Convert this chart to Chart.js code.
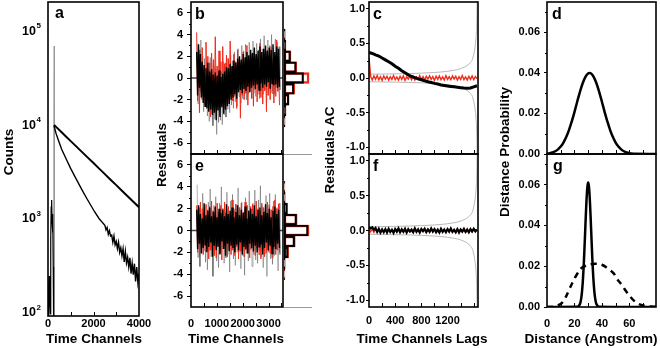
<!DOCTYPE html>
<html>
<head>
<meta charset="utf-8">
<title>Decay fit, residuals, autocorrelation and distance distributions</title>
<script src="https://cdn.jsdelivr.net/npm/chart.js@4.4.1/dist/chart.umd.min.js"></script>
<style>
  body { margin: 0; background: #fff; }
  #wrap { position: relative; width: 660px; height: 348px; }
  canvas { position: absolute; left: 0; top: 0; }
</style>
</head>
<body>
<div id="wrap">
  <canvas id="chartA" width="660" height="348"></canvas>
  <canvas id="chartB" width="660" height="348"></canvas>
  <canvas id="chartBh" width="660" height="348"></canvas>
  <canvas id="chartE" width="660" height="348"></canvas>
  <canvas id="chartEh" width="660" height="348"></canvas>
  <canvas id="chartC" width="660" height="348"></canvas>
  <canvas id="chartF" width="660" height="348"></canvas>
  <canvas id="chartD" width="660" height="348"></canvas>
  <canvas id="chartG" width="660" height="348"></canvas>
</div>
<script>
/*
    1. The data.
*/

// Panel a: counts vs time channel (log axis)
const countTicks = [100, 1000, 10000, 100000];
const decayChannelTicks = [0, 2000, 4000];
const irfChannels = [0, 240, 255, 262, 268, 272, 276, 282, 295, 4000];
const irfCounts   = [80, 85, 300, 6000, 68000, 20000, 3000, 300, 85, 80];
const preChannels = [5, 25, 45, 70, 95, 120, 140, 160, 180, 200, 215, 230, 245];
const preCounts   = [90, 180, 240, 130, 95, 600, 1300, 1550, 900, 700, 1100, 300, 90];
const slowChannels = [265, 400, 600, 800, 1000, 1250, 1500, 1750, 2000, 2250, 2500, 2750, 3000, 3250, 3500, 3750, 4000];
const slowCounts   = [9800, 9100, 8170, 7330, 6580, 5750, 5020, 4390, 3840, 3350, 2925, 2555, 2234, 1950, 1703, 1488, 1300];
const fastChannels = [265, 350, 453, 600, 820, 1000, 1260, 1500, 1700, 2040, 2250,
    2500, 2550, 2600, 2650, 2700, 2750, 2800, 2850, 2900, 2950, 3000, 3050, 3100, 3150, 3200, 3250,
    3300, 3350, 3400, 3450, 3500, 3550, 3600, 3650, 3700, 3750, 3800, 3850, 3900, 3950, 4000];
const fastCounts   = [9600, 8000, 6760, 5400, 4140, 3350, 2540, 1980, 1620, 1170, 980,
    832, 745, 790, 668, 730, 640, 655, 548, 640, 515, 560, 470, 548, 430, 480, 395,
    470, 340, 440, 330, 380, 300, 375, 255, 330, 248, 325, 210, 300, 205, 255];

// Panels b / e: weighted residuals, one value per residual channel
const resStart = 220, resStep = 36;
const residualTicks = [-6, -4, -2, 0, 2, 4, 6];
const residualChannelTicks = [0, 1000, 2000, 3000];
const resBlackB = [
    2.4, -1.6, 3.1, -0.9, 2.2, -1.8, 1.5, -2.3, 1.2, -2.6,
    0.9, -2.8, 1.4, -3.1, 0.6, -2.9, 0.8, -3.4, 0.3, -3.2,
    0.5, -3.9, 0.2, -3.0, 0.7, -3.6, 0.1, -2.7, 0.4, -3.3,
    0.6, -2.9, 1.0, -2.6, 0.9, -2.4, 1.3, -2.0, 1.1, -1.8,
    1.6, -1.5, 1.4, -1.9, 1.8, -1.3, 2.0, -1.1, 1.7, -1.4,
    2.2, -1.0, 1.9, -1.2, 2.4, -0.8, 2.1, -1.3, 2.6, -0.9,
    2.3, -0.7, 2.8, -1.0, 2.2, -0.6, 2.5, -1.1, 2.9, -0.5,
    2.4, -0.9, 2.7, -0.6, 3.0, -0.8, 2.5, -0.4, 2.8, -1.0,
    2.6, -0.5, 3.1, -0.7, 2.4, -0.6, 2.9, -0.9, 2.7, -0.8];
const resGrayB = [
    3.2, -2.4, 2.6, -1.2, 3.5, -2.0, 2.0, -3.1, 1.8, -2.2,
    1.5, -3.5, 0.7, -4.0, 1.9, -3.3, 0.4, -4.4, 1.1, -3.8,
    0.9, -5.2, 0.3, -4.1, 1.2, -3.9, 0.6, -4.3, 1.5, -3.4,
    1.4, -3.6, 1.8, -2.9, 0.8, -3.2, 2.1, -2.5, 1.6, -2.8,
    2.4, -2.2, 1.2, -2.6, 2.7, -1.7, 1.5, -2.3, 3.0, -1.9,
    2.5, -1.6, 3.1, -2.0, 1.8, -1.5, 3.3, -1.2, 2.2, -1.8,
    3.4, -1.4, 2.0, -1.7, 3.2, -0.9, 2.6, -1.9, 3.6, -1.2,
    2.7, -1.5, 3.9, -1.0, 2.4, -1.6, 3.5, -0.8, 3.0, -1.4,
    4.0, -1.2, 2.8, -1.5, 3.6, -0.9, 3.3, -1.3, 2.9, -1.1];
const resRedB = [
    4.2, -2.1, 1.6, -3.2, 1.9, -1.4, 2.8, -1.7, 1.2, -2.5,
    3.3, -1.5, 2.0, -2.2, 1.4, -3.6, 2.3, -1.1, 1.7, -2.0,
    3.8, -1.6, 1.1, -2.7, 2.5, -1.3, 1.5, -2.4, 2.9, -1.8,
    1.3, -3.0, 2.1, -1.2, 1.8, -2.3, 3.4, -1.5, 1.0, -2.1,
    2.2, -1.7, 1.5, -2.8, 2.6, -1.2, 1.9, -3.7, 1.4, -1.6,
    2.4, -2.0, 1.2, -1.4, 3.0, -2.5, 1.7, -1.3, 2.2, -1.9,
    1.6, -2.6, 2.7, -1.1, 1.3, -2.2, 2.0, -1.5, 3.2, -1.8,
    1.5, -2.4, 2.3, -1.2, 1.8, -3.1, 2.6, -1.6, 1.1, -2.0,
    2.9, -1.4, 1.6, -2.3, 2.1, -1.7, 3.5, -1.2, 1.4, -2.5];
const resBlackE = [
    1.9, -1.7, 2.3, -1.2, 1.5, -2.1, 1.1, -1.6, 2.5, -1.3,
    1.4, -2.0, 1.8, -1.5, 2.1, -1.1, 1.3, -2.4, 1.7, -1.4,
    2.2, -1.8, 1.2, -1.5, 2.0, -2.2, 1.6, -1.0, 1.9, -1.7,
    1.3, -2.3, 2.4, -1.2, 1.5, -1.9, 1.8, -1.4, 2.1, -1.6,
    1.2, -2.0, 1.7, -1.3, 2.3, -1.8, 1.4, -1.1, 1.9, -2.2,
    1.6, -1.5, 2.2, -1.7, 1.1, -2.1, 1.8, -1.2, 2.0, -1.6,
    1.5, -1.9, 2.3, -1.4, 1.3, -2.0, 1.9, -1.5, 2.1, -1.3,
    1.4, -2.2, 1.7, -1.6, 2.4, -1.1, 1.6, -1.8, 2.0, -1.4,
    1.2, -2.1, 1.8, -1.5, 2.2, -1.7, 1.5, -1.2, 1.9, -1.6];
const resGrayE = [
    4.2, -2.5, 2.1, -3.3, 1.6, -2.0, 3.4, -1.8, 2.2, -2.9,
    1.5, -3.6, 2.6, -1.9, 3.8, -2.4, 1.8, -4.2, 2.3, -1.6,
    3.1, -2.8, 1.7, -3.4, 2.5, -2.0, 4.0, -1.7, 2.0, -3.0,
    1.6, -2.5, 3.5, -2.2, 1.9, -3.8, 2.7, -1.8, 3.3, -2.6,
    1.8, -3.2, 2.4, -2.0, 3.9, -1.9, 2.1, -3.5, 2.6, -2.3,
    1.7, -4.1, 3.0, -2.1, 2.3, -2.8, 3.6, -1.8, 2.0, -3.3,
    2.5, -2.2, 3.7, -2.7, 1.9, -3.0, 2.8, -1.9, 4.1, -2.4,
    2.2, -3.4, 1.8, -2.1, 3.2, -4.2, 2.4, -2.0, 3.4, -2.6,
    1.9, -3.1, 2.7, -2.3, 3.3, -1.8, 2.1, -3.7, 2.5, -2.2];
const resRedE = [
    2.3, -2.0, 1.7, -2.4, 2.6, -1.5, 2.0, -2.2, 1.6, -1.9,
    2.4, -1.7, 1.9, -2.6, 2.2, -1.8, 2.7, -1.6, 1.8, -2.3,
    2.1, -2.5, 2.5, -1.4, 1.7, -2.1, 2.3, -2.7, 2.0, -1.6,
    2.6, -1.9, 1.8, -2.4, 2.2, -1.7, 1.6, -2.2, 2.8, -1.8,
    2.0, -2.3, 2.4, -1.5, 1.9, -2.6, 2.1, -1.9, 2.5, -2.0,
    1.7, -2.4, 2.6, -1.8, 2.3, -2.1, 1.8, -2.5, 2.2, -1.7,
    2.4, -2.0, 1.9, -2.3, 2.7, -1.6, 2.0, -2.2, 1.8, -2.6,
    2.5, -1.8, 2.1, -2.4, 1.7, -2.0, 2.6, -1.9, 2.3, -2.1,
    1.9, -2.5, 2.2, -1.7, 2.8, -2.2, 2.0, -1.8, 2.4, -2.0];

// Residual histograms (bin centre, bar length)
const histBins   = [-4, -3, -2, -1, 0, 1, 2, 3, 4];
const histBlackB = [1, 2, 5, 10.3, 20.3, 12.7, 6.7, 2, 1];
const histRedB   = [1, 2, 5.3, 11.3, 26, 13.3, 7.3, 1.7, 1.3];
const histBlackE = [0.5, 1, 4.3, 11, 25, 13, 3.3, 1, 0.5];
const histRedE   = [1, 1.3, 4.8, 11.7, 26, 13.7, 3.8, 1.3, 1];

// Panels c / f: autocorrelation of residuals vs lag
const acTicks = [-1, -0.5, 0, 0.5, 1];
const lagTicks = [0, 400, 800, 1200];
const lagStep = 25;
const acLagsBlackC = [0, 50, 100, 150, 200, 250, 300, 350, 400, 450, 500, 550, 600, 650, 700, 750, 800,
    850, 900, 950, 1000, 1050, 1100, 1150, 1200, 1250, 1300, 1350, 1400, 1450, 1500, 1550, 1600, 1650];
const acBlackC = [0.37, 0.355, 0.335, 0.318, 0.29, 0.262, 0.235, 0.205, 0.17, 0.14,
    0.105, 0.075, 0.045, 0.022, 0.005, -0.012, -0.026, -0.04, -0.055, -0.066,
    -0.078, -0.088, -0.1, -0.108, -0.115, -0.122, -0.128, -0.133, -0.14, -0.146,
    -0.15, -0.145, -0.128, -0.112];
const acRedC = [
    0.30, 0.02, -0.03, 0.03, -0.02, 0.035, -0.025, 0.02, -0.035, 0.03,
    -0.015, 0.025, -0.03, 0.02, -0.02, 0.035, -0.025, 0.015, -0.03, 0.025,
    -0.02, 0.03, -0.035, 0.02, -0.015, 0.03, -0.025, 0.025, -0.03, 0.015,
    -0.02, 0.035, -0.025, 0.02, -0.03, 0.025, -0.015, 0.03, -0.02, 0.02,
    -0.035, 0.025, -0.02, 0.03, -0.025, 0.015, -0.03, 0.035, -0.02, 0.02,
    -0.025, 0.03, -0.015, 0.025, -0.03, 0.02, -0.02, 0.035, -0.025, 0.015,
    -0.03, 0.025, -0.02, 0.03, -0.025, 0.02, -0.01];
const acBlackF = [
    0.05, 0.03, 0.045, 0.01, 0.035, -0.02, 0.025, -0.03, 0.015, -0.025,
    0.02, -0.03, 0.025, -0.02, 0.01, -0.035, 0.02, -0.015, 0.03, -0.025,
    0.015, -0.02, 0.025, -0.03, 0.02, -0.015, 0.01, -0.025, 0.03, -0.02,
    0.015, -0.03, 0.02, -0.01, 0.025, -0.025, 0.015, -0.02, 0.03, -0.015,
    0.02, -0.025, 0.01, -0.03, 0.025, -0.02, 0.015, -0.025, 0.02, -0.015,
    0.03, -0.02, 0.01, -0.025, 0.02, -0.03, 0.015, -0.015, 0.025, -0.02,
    0.01, -0.025, 0.02, -0.015, 0.025, -0.01, 0.015];
const acRedF = [
    0.04, -0.02, 0.02, -0.03, 0.015, -0.02, 0.025, -0.015, 0.02, -0.03,
    0.01, -0.02, 0.025, -0.025, 0.015, -0.01, 0.02, -0.03, 0.01, -0.02,
    0.03, -0.015, 0.02, -0.025, 0.01, -0.02, 0.025, -0.03, 0.015, -0.01,
    0.02, -0.025, 0.03, -0.015, 0.01, -0.02, 0.025, -0.025, 0.015, -0.02,
    0.02, -0.01, 0.025, -0.03, 0.015, -0.02, 0.01, -0.015, 0.025, -0.025,
    0.02, -0.02, 0.015, -0.03, 0.025, -0.01, 0.02, -0.025, 0.01, -0.02,
    0.03, -0.015, 0.02, -0.02, 0.015, -0.025, 0.01];
const bandLags  = [0, 200, 400, 600, 800, 1000, 1100, 1200, 1300, 1400, 1450, 1500, 1550, 1580, 1600, 1620, 1635, 1645, 1652];
const bandUpper = [0.055, 0.057, 0.06, 0.064, 0.07, 0.08, 0.087, 0.097, 0.112, 0.135, 0.155, 0.18, 0.225, 0.27, 0.34, 0.45, 0.58, 0.78, 1.15];
const bandLower = [-0.055, -0.057, -0.06, -0.064, -0.07, -0.08, -0.087, -0.097, -0.112, -0.135, -0.155, -0.18, -0.225, -0.27, -0.34, -0.45, -0.58, -0.78, -1.15];

// Panels d / g: distance probability vs distance (Angstrom)
const probTicks = [0, 0.02, 0.04, 0.06];
const distTicks = [0, 20, 40, 60];
const distD = [0, 2, 4, 6, 8, 10, 12, 14, 16, 18, 20, 22, 24, 26, 28, 30, 31, 32, 34, 36,
    38, 40, 42, 44, 46, 48, 50, 52, 54, 56, 58, 60, 62, 64, 80];
const probD = [0.00022, 0.00042, 0.00077, 0.00135, 0.00227, 0.00366, 0.00564, 0.00834, 0.0118, 0.0160,
    0.0207, 0.0258, 0.0307, 0.0349, 0.0381, 0.0398, 0.0400, 0.0398, 0.0381, 0.0349,
    0.0307, 0.0258, 0.0207, 0.0160, 0.0118, 0.00834, 0.00564, 0.00366, 0.00227, 0.00135,
    0.00077, 0.00042, 0.00022, 0.0001, 0];
const distNarrowG = [0, 22, 23, 24, 24.5, 25, 25.5, 26, 26.5, 27, 27.5, 28, 28.5, 29, 29.5, 30,
    30.5, 31, 31.5, 32, 32.5, 33, 33.5, 34, 34.5, 35, 35.5, 36, 37, 38, 80];
const probNarrowG = [0, 0.00008, 0.00039, 0.00148, 0.00268, 0.00461, 0.00753, 0.01168, 0.0172, 0.02407,
    0.0320, 0.04035, 0.0483, 0.05502, 0.0594, 0.061, 0.0594, 0.05502, 0.0483, 0.04035,
    0.0320, 0.02407, 0.0172, 0.01168, 0.00753, 0.00461, 0.00268, 0.00148, 0.00039, 0.00008, 0];
const distBroadG = [0, 5, 8, 10.5, 13, 16.6, 19, 21.5, 25, 28, 32, 36, 40, 44, 48.4, 51, 54.5, 57.5,
    60.6, 63.5, 66.7, 70, 72.8, 76, 80];
const probBroadG = [0, 0.0002, 0.0008, 0.0018, 0.004, 0.0092, 0.0125, 0.0157, 0.019, 0.0202, 0.021, 0.0212,
    0.0207, 0.019, 0.0166, 0.0138, 0.0108, 0.0078, 0.0051, 0.003, 0.0015, 0.0008, 0.0005, 0.0002, 0];

/*
    2. Chart.js setup: one canvas per panel, all stacked on the same page area.
*/
const W = 660, H = 348;
const RED = '#ec2d1c';
const FONT = '"Liberation Sans", Arial, Helvetica, sans-serif';

Chart.defaults.font.family = FONT;
Chart.defaults.font.size = 11;
Chart.defaults.font.weight = 'bold';
Chart.defaults.color = '#000';
Chart.defaults.animation = false;
Chart.defaults.events = [];
Chart.defaults.plugins.legend.display = false;
Chart.defaults.plugins.tooltip.enabled = false;

const xy = (xs, ys) => xs.map((x, i) => ({ x: x, y: ys[i] }));
const resChannels = resBlackB.map((_, i) => resStart + i * resStep);
const resChannelsGray = resGrayB.map((_, i) => resStart + resStep / 2 + i * resStep);
const acLags = acRedC.map((_, i) => i * lagStep);

// frame, inward x ticks, minor y ticks and free text (titles, panel letters)
const decor = {
    id: 'decor',
    afterDraw(chart, args, o) {
        const ctx = chart.ctx, a = chart.chartArea;
        const xs = chart.scales.x, ys = chart.scales.y;
        ctx.save();
        ctx.strokeStyle = '#000';
        if (o.box) {
            ctx.lineWidth = 1.6;
            ctx.strokeRect(a.left, a.top, a.right - a.left, a.bottom - a.top);
        }
        ctx.lineWidth = 1;
        (o.xIn || []).forEach(v => {
            const p = Math.round(xs.getPixelForValue(v)) + 0.5;
            ctx.beginPath(); ctx.moveTo(p, a.bottom); ctx.lineTo(p, a.bottom - 4); ctx.stroke();
        });
        (o.yMinor || []).forEach(v => {
            const p = Math.round(ys.getPixelForValue(v)) + 0.5;
            ctx.beginPath(); ctx.moveTo(a.left, p); ctx.lineTo(a.left - 2, p); ctx.stroke();
        });
        ctx.fillStyle = '#000';
        (o.pow10 || []).forEach(v => {
            const p = ys.getPixelForValue(v);
            ctx.font = 'bold 12.5px ' + FONT;
            ctx.textAlign = 'right'; ctx.textBaseline = 'middle';
            ctx.fillText('10', 36, p + 1);
            ctx.font = 'bold 8px ' + FONT;
            ctx.textAlign = 'left';
            ctx.fillText(String(Math.round(Math.log10(v))), 36.5, p - 4);
        });
        (o.texts || []).forEach(t => {
            ctx.save();
            ctx.font = 'bold ' + (t.size || 13.5) + 'px ' + FONT;
            ctx.textAlign = t.align || 'center';
            ctx.textBaseline = t.base || 'middle';
            ctx.translate(t.x, t.y);
            if (t.rot) ctx.rotate(-Math.PI / 2);
            ctx.fillText(t.text, 0, 0);
            ctx.restore();
        });
        ctx.restore();
    }
};

function xScale(min, max, ticks, pad, show) {
    return {
        type: 'linear', min: min, max: max, offset: false,
        afterBuildTicks: s => { s.ticks = ticks.map(v => ({ value: v })); },
        ticks: { display: show, padding: pad, maxRotation: 0, autoSkip: false, callback: v => String(v) },
        grid: { display: false, drawTicks: false },
        border: { display: false }
    };
}

function yScale(min, max, ticks, fmt, tickLen, pad, type) {
    return {
        type: type || 'linear', min: min, max: max, offset: false,
        afterBuildTicks: s => { s.ticks = ticks.map(v => ({ value: v })); },
        ticks: { padding: pad, autoSkip: false, callback: fmt, display: !!fmt },
        grid: { drawOnChartArea: false, drawTicks: true, tickLength: tickLen, color: '#000', lineWidth: 1 },
        border: { display: false }
    };
}

function line(data, color, width, order, extra) {
    return Object.assign({
        data: data, borderColor: color, borderWidth: width, order: order,
        showLine: true, pointRadius: 0, fill: false
    }, extra || {});
}

// box = [left, top, right, bottom] of the plot area in page pixels
function panel(id, box, yW, xH, type, datasets, scales, decorOpts, extraOptions) {
    // fixed axis sizes and no label overflow padding, so the plot area lands exactly on box
    scales.x.afterFit = s => { s.height = xH; s.paddingLeft = 0; s.paddingRight = 0; };
    scales.y.afterFit = s => { s.width = yW; s.paddingTop = 0; s.paddingBottom = 0; };
    const options = Object.assign({
        responsive: false,
        layout: {
            autoPadding: false,
            padding: { left: box[0] - yW, top: box[1], right: W - box[2], bottom: H - box[3] - xH }
        },
        scales: scales,
        plugins: { decor: decorOpts }
    }, extraOptions || {});
    return new Chart(document.getElementById(id), {
        type: type, data: { datasets: datasets }, options: options, plugins: [decor]
    });
}

/*
    3. The panels.
*/

// a: decays
const chartA = panel('chartA', [48, 2, 139, 316], 40, 20, 'scatter', [
    line(xy(irfChannels, irfCounts), '#9a9a9a', 1.2, 3),
    line(xy(preChannels, preCounts), '#000', 1.2, 2),
    line(xy(slowChannels, slowCounts), '#000', 2, 1),
    line(xy(fastChannels, fastCounts), '#000', 1.4, 0)
], {
    x: xScale(0, 4000, decayChannelTicks, 1, true),
    y: yScale(90, 200000, countTicks, null, 4, 3, 'logarithmic')
}, {
    box: true, xIn: [1000, 2000, 3000], pow10: countTicks,
    texts: [
        { text: 'a', x: 55, y: 18, size: 16, align: 'left', base: 'alphabetic' },
        { text: 'Counts', x: 9, y: 152, rot: true },
        { text: 'Time Channels', x: 94, y: 339 }
    ]
});

const fmtInt = v => String(v);
const fmt1 = v => v.toFixed(1);
const fmt2 = v => v.toFixed(2);
const zeroLine = [{ x: 0, y: 0 }, { x: 3560, y: 0 }];

// b: residuals, first fit
const chartB = panel('chartB', [191, 2, 283, 154], 30, 0, 'scatter', [
    line(xy(resChannels, resBlackB), '#000', 1.4, 0),
    line(xy(resChannels, resRedB), RED, 1, 1),
    line(xy(resChannelsGray, resGrayB), 'rgba(0,0,0,0.3)', 1, 2),
    line(zeroLine, '#444', 1.5, 3)
], {
    x: xScale(0, 3560, [], 0, false),
    y: yScale(-7, 7, residualTicks, fmtInt, 4, 4)
}, {
    box: true, xIn: [500, 1000, 1500, 2000, 2500, 3000, 3500], yMinor: [-5, -3, -1, 1, 3, 5],
    texts: [{ text: 'b', x: 195, y: 19, size: 16, align: 'left', base: 'alphabetic' }]
});

// e: residuals, second fit
const chartE = panel('chartE', [191, 154, 283, 307], 30, 20, 'scatter', [
    line(xy(resChannels, resBlackE), '#000', 1.4, 0),
    line(xy(resChannels, resRedE), RED, 1, 1),
    line(xy(resChannelsGray, resGrayE), 'rgba(0,0,0,0.3)', 1, 2),
    line(zeroLine, '#444', 1.5, 3)
], {
    x: xScale(0, 3560, residualChannelTicks, 10, true),
    y: yScale(-7, 7, residualTicks, fmtInt, 4, 4)
}, {
    box: true, xIn: [500, 1000, 1500, 2000, 2500, 3000, 3500], yMinor: [-5, -3, -1, 1, 3, 5],
    texts: [
        { text: 'e', x: 195, y: 171, size: 16, align: 'left', base: 'alphabetic' },
        { text: 'Residuals', x: 162, y: 155, rot: true },
        { text: 'Time Channels', x: 236, y: 339 }
    ]
});

// residual histograms beside b and e
function histPanel(id, box, black, red) {
    return panel(id, box, 0, 0, 'bar', [
        { data: xy(black, histBins), backgroundColor: 'rgba(0,0,0,0)', borderColor: '#000', borderWidth: 1.5,
          borderSkipped: false, grouped: false, barPercentage: 1, categoryPercentage: 1, order: 0 },
        { data: xy(red, histBins), backgroundColor: '#fff', borderColor: RED, borderWidth: 2.5,
          borderSkipped: false, grouped: false, barPercentage: 1, categoryPercentage: 1, order: 1 }
    ], {
        x: {
            type: 'linear', min: 0, max: 28, offset: false,
            ticks: { display: false }, grid: { display: false, drawTicks: false },
            border: { display: true, color: '#999', width: 1, dash: [1, 2] }
        },
        y: {
            type: 'linear', min: -7, max: 7, offset: false,
            afterBuildTicks: s => { s.ticks = histBins.map(v => ({ value: v })); },
            ticks: { display: false }, grid: { display: false, drawTicks: false }, border: { display: false }
        }
    }, {}, { indexAxis: 'y' });
}
const chartBh = histPanel('chartBh', [284, 2, 311, 154], histBlackB, histRedB);
const chartEh = histPanel('chartEh', [284, 154, 311, 307], histBlackE, histRedE);

// c / f: residual autocorrelation
const bandSets = () => [
    line(xy(bandLags, bandUpper), '#b8b8b8', 1, 2, { cubicInterpolationMode: 'monotone' }),
    line(xy(bandLags, bandLower), '#b8b8b8', 1, 2, { cubicInterpolationMode: 'monotone' })
];
const chartC = panel('chartC', [369, 2, 478, 154], 30, 0, 'scatter', [
    line(xy(acLagsBlackC, acBlackC), '#000', 3, 0),
    line(xy(acLags, acRedC), RED, 1.4, 1)
].concat(bandSets()), {
    x: xScale(0, 1665, [], 0, false),
    y: yScale(-1.1, 1.1, acTicks, fmt1, 3, 1)
}, {
    box: true, xIn: [200, 400, 600, 800, 1000, 1200, 1400, 1600], yMinor: [-0.75, -0.25, 0.25, 0.75],
    texts: [{ text: 'c', x: 373, y: 19, size: 16, align: 'left', base: 'alphabetic' }]
});
const chartF = panel('chartF', [369, 154, 478, 307], 30, 20, 'scatter', [
    line(xy(acLags, acBlackF), '#000', 2.2, 0),
    line(xy(acLags, acRedF), RED, 1.2, 1)
].concat(bandSets()), {
    x: xScale(0, 1665, lagTicks, 7, true),
    y: yScale(-1.1, 1.1, acTicks, fmt1, 3, 1)
}, {
    box: true, xIn: [200, 400, 600, 800, 1000, 1200, 1400, 1600], yMinor: [-0.75, -0.25, 0.25, 0.75],
    texts: [
        { text: 'f', x: 373, y: 171, size: 16, align: 'left', base: 'alphabetic' },
        { text: 'Residuals AC', x: 330, y: 150, rot: true },
        { text: 'Time Channels Lags', x: 422, y: 339 }
    ]
});

// d / g: distance distributions
const chartD = panel('chartD', [547, 2, 656, 154], 40, 0, 'scatter', [
    line(xy(distD, probD), '#000', 2.5, 0, { tension: 0.4 })
], {
    x: xScale(0, 79.4, [], 0, false),
    y: yScale(0, 0.075, probTicks, fmt2, 3, 4)
}, {
    box: true, xIn: [10, 20, 30, 40, 50, 60, 70], yMinor: [0.01, 0.03, 0.05, 0.07],
    texts: [{ text: 'd', x: 552, y: 19, size: 16, align: 'left', base: 'alphabetic' }]
});
const chartG = panel('chartG', [547, 154, 656, 307], 40, 20, 'scatter', [
    line(xy(distNarrowG, probNarrowG), '#000', 2.5, 0, { tension: 0.4 }),
    line(xy(distBroadG, probBroadG), '#000', 2.5, 1, { tension: 0.4, borderDash: [6, 5] })
], {
    x: xScale(0, 79.4, distTicks, 10, true),
    y: yScale(0, 0.075, probTicks, fmt2, 3, 4)
}, {
    box: true, xIn: [10, 20, 30, 40, 50, 60, 70], yMinor: [0.01, 0.03, 0.05, 0.07],
    texts: [
        { text: 'g', x: 553, y: 171, size: 16, align: 'left', base: 'alphabetic' },
        { text: 'Distance Probability', x: 505, y: 152, rot: true },
        { text: 'Distance (Angstrom)', x: 591, y: 339 }
    ]
});
</script>
</body>
</html>
